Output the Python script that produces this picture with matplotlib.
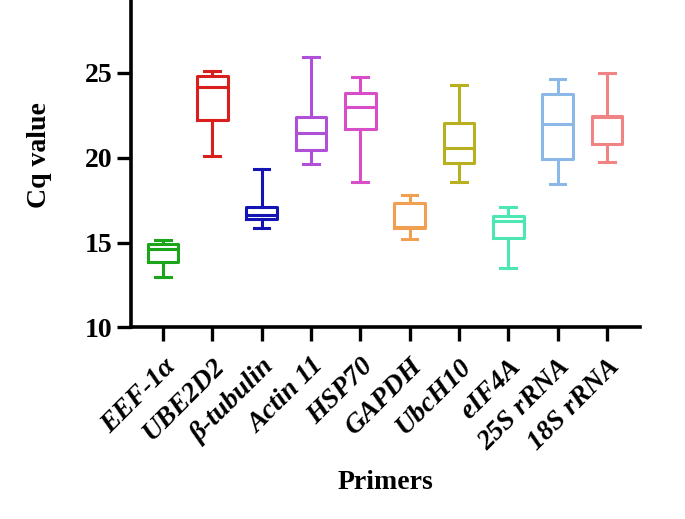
import matplotlib
matplotlib.use("Agg")
import matplotlib.pyplot as plt

primers = ["EEF-1α", "UBE2D2", "β-tubulin", "Actin 11", "HSP70", "GAPDH",
           "UbcH10", "eIF4A", "25S rRNA", "18S rRNA"]
mins = [13.0, 20.1, 15.85, 19.65, 18.55, 15.2, 18.55, 13.5, 18.45, 19.75]
q1s = [13.85, 22.2, 16.4, 20.45, 21.7, 15.85, 19.7, 15.25, 19.95, 20.8]
medians = [14.65, 24.15, 16.6, 21.45, 23.0, 15.9, 20.55, 16.3, 22.0, 22.4]
q3s = [14.9, 24.8, 17.1, 22.4, 23.8, 17.35, 22.05, 16.55, 23.75, 22.45]
maxs = [15.15, 25.1, 19.35, 25.95, 24.75, 17.8, 24.3, 17.1, 24.65, 25.0]
colors = ["#1aa51a", "#d91e1e", "#1414b4", "#b050d8", "#d84ec8", "#f0a050",
          "#b8b01e", "#4ee6b2", "#8cb8e8", "#f08484"]

plt.rcParams["font.family"] = "Liberation Serif"
plt.rcParams["font.weight"] = "bold"

fig = plt.figure(figsize=(6.85, 5.19), dpi=100)
ax = fig.add_axes([0.191, 0.369, 0.744, 0.631])

for i in range(len(primers)):
    stats = [{"whislo": mins[i], "q1": q1s[i], "med": medians[i],
              "q3": q3s[i], "whishi": maxs[i], "fliers": []}]
    c = colors[i]
    ax.bxp(stats, positions=[i], widths=0.62, showfliers=False,
           boxprops=dict(color=c, linewidth=2.2),
           medianprops=dict(color=c, linewidth=2.2),
           whiskerprops=dict(color=c, linewidth=2.2),
           capprops=dict(color=c, linewidth=2.2), capwidths=0.32)

ax.set_xlim(-0.65, 9.68)
ax.set_ylim(10, 29.3)
ax.set_yticks([10, 15, 20, 25])
ax.set_xticks(range(len(primers)))
ax.set_xticklabels(primers, rotation=45, ha="right", rotation_mode="anchor",
                   fontsize=20, fontstyle="italic", fontweight="bold")
ax.tick_params(axis="y", labelsize=20, width=2.4, length=10, pad=3)
ax.tick_params(axis="x", width=2.4, length=10, pad=9)
for s in ["top", "right"]:
    ax.spines[s].set_visible(False)
for s in ["left", "bottom"]:
    ax.spines[s].set_linewidth(2.6)

ax.set_ylabel("Cq value", fontsize=20, fontweight="bold")
ax.yaxis.set_label_coords(-0.155, 0.525)
ax.set_xlabel("Primers", fontsize=20, fontweight="bold")
ax.xaxis.set_label_coords(0.5, -0.435)

fig.savefig("out.png", dpi=100)
